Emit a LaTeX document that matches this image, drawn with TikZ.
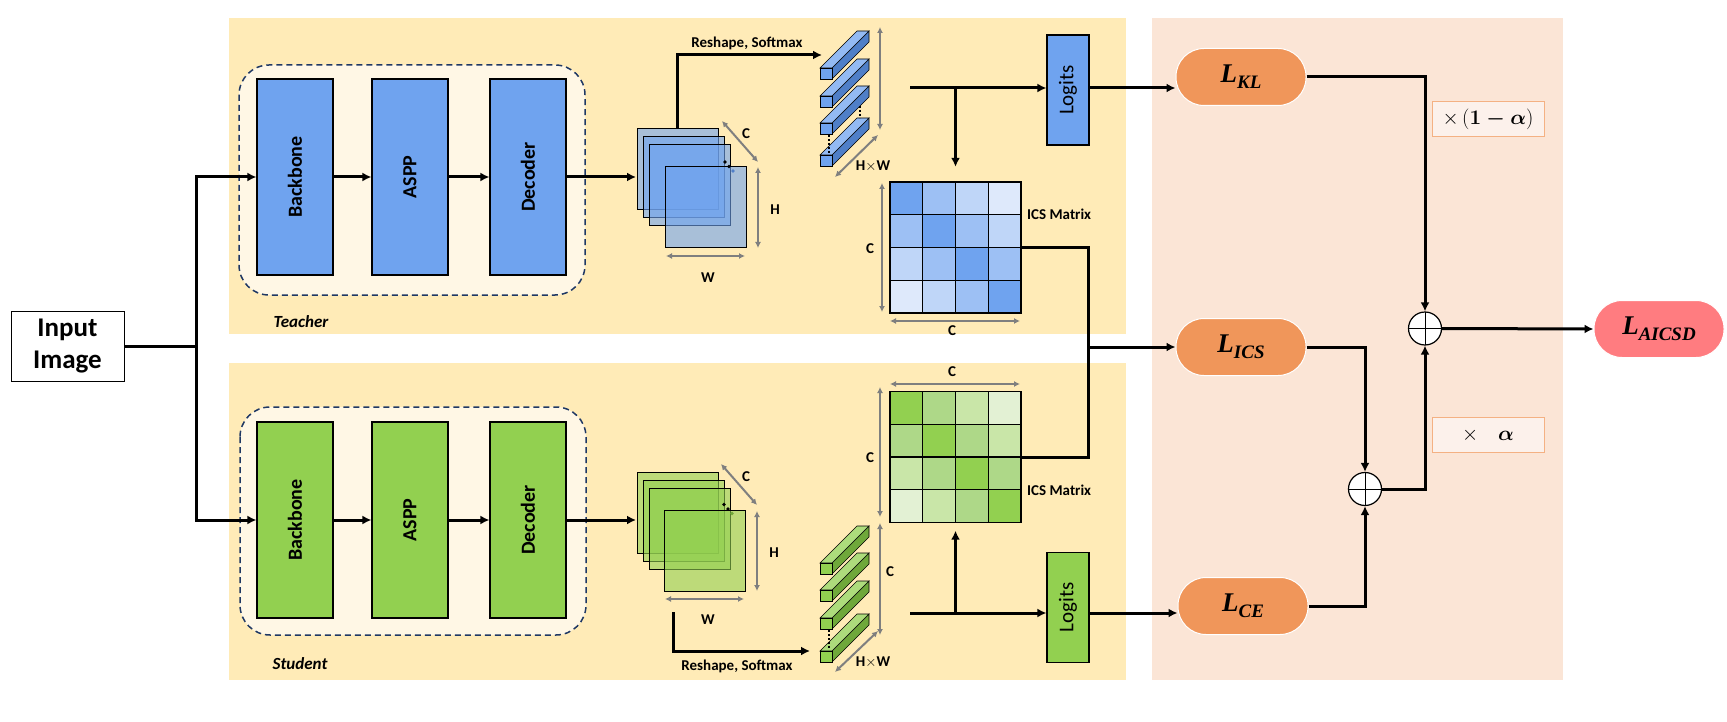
\documentclass[tikz,border=0pt]{standalone}
\usepackage{amsmath}
\usepackage{fontspec}
\setmainfont{Carlito}
\newfontfamily\lossfont{Liberation Serif}
\usetikzlibrary{arrows.meta}

\definecolor{tblue}{HTML}{6FA3EF}
\definecolor{tblueside}{HTML}{4F7FC8}
\definecolor{tcell0}{HTML}{6FA3EF}
\definecolor{tcell1}{HTML}{9DC0F4}
\definecolor{tcell2}{HTML}{BFD6F8}
\definecolor{tcell3}{HTML}{DEE9FB}
\definecolor{sgreen}{HTML}{92D050}
\definecolor{sgreenside}{HTML}{6FA83A}
\definecolor{scell0}{HTML}{92D050}
\definecolor{scell1}{HTML}{AED888}
\definecolor{scell2}{HTML}{C9E6A8}
\definecolor{scell3}{HTML}{E3F1D4}
\definecolor{panelY}{HTML}{FFEBB7}
\definecolor{panelIn}{HTML}{FFF7E5}
\definecolor{panelO}{HTML}{FBE5D6}
\definecolor{lossO}{HTML}{F0965A}
\definecolor{lossR}{HTML}{FF7C80}
\definecolor{dashN}{HTML}{1F3864}
\definecolor{dimG}{HTML}{7F7F7F}
\definecolor{factB}{HTML}{F4B183}
\definecolor{factF}{HTML}{FCF1EB}

% one 3D feature bar: x, y, front colour, side colour
\newcommand{\featbar}[4]{%
  \filldraw[fill=#4, draw=black, line width=0.6pt] (#1+12,#2) -- ++(37,-37) -- ++(0,11) -- ++(-37,37) -- cycle;
  \filldraw[fill=#3!75!white, draw=black, line width=0.6pt] (#1,#2) -- ++(37,-37) -- ++(12,0) -- ++(-37,37) -- cycle;
  \filldraw[fill=#3, draw=black, line width=0.6pt] (#1,#2) rectangle ++(12,11);
}
% loss name with subscript
\newcommand{\lossname}[1]{{\lossfont\bfseries\itshape L\raisebox{-6pt}{\fontsize{19}{21}\selectfont #1}}}

\tikzset{
  block/.style={draw=black, line width=1.2pt, minimum width=76pt, minimum height=196pt, inner sep=0pt, font=\fontsize{20}{24}\selectfont\bfseries},
  logit/.style={draw=black, line width=1.2pt, minimum width=42pt, minimum height=110pt, inner sep=0pt, font=\fontsize{21}{24}\selectfont},
  arr/.style={line width=3pt, -{Latex[length=9pt,width=9pt]}},
  wire/.style={line width=3pt},
  dim/.style={dimG, line width=2pt, {Latex[length=6pt,width=6pt]}-{Latex[length=6pt,width=6pt]}},
  dimlbl/.style={font=\fontsize{15}{17}\selectfont\bfseries},
  sheet/.style={draw=black, line width=1pt, fill opacity=0.6},
  loss/.style={draw=white, line width=1pt, rounded corners=28pt, minimum width=130pt, minimum height=57pt, inner sep=0pt, font=\fontsize{27}{30}\selectfont},
  factor/.style={draw=factB, fill=factF, line width=1pt, minimum width=112pt, minimum height=35pt, inner sep=0pt, font=\fontsize{20}{24}\selectfont},
  sumnode/.style={circle, draw=black, fill=white, line width=1.2pt, minimum size=33pt, inner sep=0pt,
    path picture={\draw[line width=1pt] (path picture bounding box.north) -- (path picture bounding box.south)
      (path picture bounding box.west) -- (path picture bounding box.east);}}
}

\begin{document}
\begin{tikzpicture}[x=1pt, y=-1pt]
\useasboundingbox (0,0) rectangle (1727,722);

% Paneles
\fill[panelY] (229,18) rectangle (1126,334);
\fill[panelY] (229,363) rectangle (1126,680);
\fill[panelO] (1152,18) rectangle (1563,680);
\draw[dashN, line width=1.5pt, dash pattern=on 6pt off 4pt, fill=panelIn, rounded corners=30pt] (239,65) rectangle (585,295);
\draw[dashN, line width=1.5pt, dash pattern=on 6pt off 4pt, fill=panelIn, rounded corners=30pt] (240,407) rectangle (586,635);
\node[font=\fontsize{17}{19}\selectfont\bfseries\itshape] (tlabel) at (301,322) {Teacher};
\node[font=\fontsize{17}{19}\selectfont\bfseries\itshape] (slabel) at (300,664) {Student};

% Entrada
\node[draw, line width=1pt, minimum width=113pt, minimum height=70pt, align=center, inner sep=0pt,
  font=\fontsize{27}{32}\selectfont\bfseries] (input) at (67.5,346) {Input\\Image};
\coordinate (split) at (196,346);

% Teacher: backbone, ASPP, decoder
\node[block, fill=tblue] (tbackbone) at (295,177) {\rotatebox{90}{Backbone}};
\node[block, fill=tblue] (taspp) at (410,177) {\rotatebox{90}{ASPP}};
\node[block, fill=tblue] (tdecoder) at (528,177) {\rotatebox{90}{Decoder}};

% Student: backbone, ASPP, decoder
\node[block, fill=sgreen] (sbackbone) at (295,520) {\rotatebox{90}{Backbone}};
\node[block, fill=sgreen] (saspp) at (410,520) {\rotatebox{90}{ASPP}};
\node[block, fill=sgreen] (sdecoder) at (528,520) {\rotatebox{90}{Decoder}};

\draw[wire] (input.east) -- (split);
\draw[arr] (split) |- (tbackbone.west);
\draw[arr] (split) |- (sbackbone.west);
\draw[arr] (tbackbone) -- (taspp);
\draw[arr] (taspp) -- (tdecoder);
\draw[arr] (sbackbone) -- (saspp);
\draw[arr] (saspp) -- (sdecoder);

% Mapas de caracteristicas (teacher)
\filldraw[sheet, fill=tblue] (637,129) rectangle ++(81,81);
\filldraw[sheet, fill=tblue] (643,137) rectangle ++(81,81);
\filldraw[sheet, fill=tblue] (649,145) rectangle ++(81,81);
\filldraw[sheet, fill=tblue] (665,167) rectangle ++(81,81);
\fill (725,162) circle (1.8);
\fill (729,166.5) circle (1.8);
\fill[tblueside] (733,171) circle (1.8);
\coordinate (tstack) at (636,177);
\draw[arr] (tdecoder.east) -- (tstack);
\draw[dim] (722,121) -- (758,162);
\node[dimlbl] (tdimc) at (746,134) {C};
\draw[dim] (758,167) -- (758,248);
\node[dimlbl] (tdimh) at (775,210) {H};
\draw[dim] (666,256) -- (745,256);
\node[dimlbl] (tdimw) at (708,278) {W};

% Mapas de caracteristicas (student)
\filldraw[sheet, fill=sgreen] (637,472) rectangle ++(81,81);
\filldraw[sheet, fill=sgreen] (643,480) rectangle ++(81,81);
\filldraw[sheet, fill=sgreen] (649,488) rectangle ++(81,81);
\filldraw[sheet, fill=sgreen] (664,510) rectangle ++(81,81);
\fill (724,504.5) circle (1.8);
\fill (728,509) circle (1.8);
\fill[sgreenside] (732,513.5) circle (1.8);
\coordinate (sstack) at (636,520);
\draw[arr] (sdecoder.east) -- (sstack);
\draw[dim] (721,464) -- (757,505);
\node[dimlbl] (sdimc) at (746,477) {C};
\draw[dim] (757,511) -- (757,591);
\node[dimlbl] (sdimh) at (774,553) {H};
\draw[dim] (665,599) -- (744,599);
\node[dimlbl] (sdimw) at (708,620) {W};

% Reshape, Softmax
\coordinate (tresh) at (677,129);
\coordinate (tbarin) at (822,55);
\draw[arr] (tresh) |- (tbarin);
\node[dimlbl] (treshlbl) at (747,43) {Reshape, Softmax};
\coordinate (sresh) at (673,612);
\coordinate (sbarin) at (810,651);
\draw[arr] (sresh) |- (sbarin);
\node[dimlbl] (sreshlbl) at (737,666) {Reshape, Softmax};

% Barras HxW (teacher)
\featbar{820}{68}{tblue}{tblueside}
\featbar{820}{96}{tblue}{tblueside}
\featbar{820}{123}{tblue}{tblueside}
\featbar{820}{155}{tblue}{tblueside}
\draw[line width=2pt, dotted] (828.5,135) -- (828.5,153);
\draw[line width=2pt, dotted] (859.5,106) -- (859.5,118);
\draw[dim] (880,27) -- (880,130);
\draw[dim] (878,135) -- (835,177);
\node[dimlbl] (thw) at (873,166) {H$\times$W};

% Barras HxW (student)
\featbar{820}{563}{sgreen}{sgreenside}
\featbar{820}{590}{sgreen}{sgreenside}
\featbar{820}{618}{sgreen}{sgreenside}
\featbar{820}{651}{sgreen}{sgreenside}
\draw[line width=2pt, dotted] (828.5,630) -- (828.5,649);
\draw[dim] (880,523) -- (880,635);
\node[dimlbl] (sdimcb) at (890,572) {C};
\draw[dim] (878,631) -- (835,672);
\node[dimlbl] (shw) at (873,662) {H$\times$W};

% Matriz ICS (teacher)
\foreach \i in {0,...,3}{
  \foreach \j in {0,...,3}{
    \pgfmathtruncatemacro\d{abs(\i-\j)}
    \filldraw[fill=tcell\d, draw=black, line width=1.2pt] (890+32.75*\j,182+32.75*\i) rectangle ++(32.75,32.75);
  }
}
\node[minimum size=131pt, inner sep=0pt] (tmat) at (955.5,247.5) {};
\draw[dim] (882,183) -- (882,312);
\node[dimlbl] (tmatc) at (870,249) {C};
\draw[dim] (890,321) -- (1020,321);
\node[dimlbl] (tmatcb) at (952,331) {C};
\node[dimlbl, anchor=west, inner sep=0pt] (tics) at (1027,214) {ICS Matrix};

% Matriz ICS (student)
\foreach \i in {0,...,3}{
  \foreach \j in {0,...,3}{
    \pgfmathtruncatemacro\d{abs(\i-\j)}
    \filldraw[fill=scell\d, draw=black, line width=1.2pt] (890+32.75*\j,391.5+32.75*\i) rectangle ++(32.75,32.75);
  }
}
\node[minimum size=131pt, inner sep=0pt] (smat) at (955.5,457) {};
\draw[dim] (890,384) -- (1020,384);
\node[dimlbl] (smatct) at (952,372) {C};
\draw[dim] (880,387) -- (880,517);
\node[dimlbl] (smatc) at (870,458) {C};
\node[dimlbl, anchor=west, inner sep=0pt] (sics) at (1027,490) {ICS Matrix};

% Logits
\node[logit, fill=tblue] (tlogits) at (1068,90) {\rotatebox{90}{Logits}};
\node[logit, fill=sgreen] (slogits) at (1068,607.5) {\rotatebox{90}{Logits}};
\coordinate (tbarout) at (910,88);
\coordinate (tsplit) at (955.5,88);
\draw[arr] (tbarout) -- (tbarout -| tlogits.west);
\draw[arr, shorten >=15pt] (tsplit) -- (tmat.north);
\coordinate (sbarout) at (910,613);
\coordinate (ssplit) at (955.5,613);
\draw[arr] (sbarout) -- (sbarout -| slogits.west);
\draw[arr, shorten >=8pt] (ssplit) -- (smat.south);

% Perdidas
\node[loss, fill=lossO] (lkl) at (1241,77) {\lossname{KL}};
\node[loss, fill=lossO] (lics) at (1241,347) {\lossname{ICS}};
\node[loss, fill=lossO] (lce) at (1243,606) {\lossname{CE}};
\node[loss, fill=lossR] (laicsd) at (1659,329) {\lossname{AICSD}};
\node[sumnode] (sumtop) at (1425,328.5) {};
\node[sumnode] (sumbot) at (1365,489) {};
\node[factor] (fkl) at (1488,119.5) {$\times\,(\boldsymbol{1-\alpha})$};
\node[factor] (fce) at (1488,435) {$\times\quad\boldsymbol{\alpha}$};

\draw[arr] (tlogits.east |- tbarout) -- (tbarout -| lkl.west);
\draw[arr] (slogits.east |- sbarout) -- (sbarout -| lce.west);

% Union ICS
\coordinate (icsj) at (1088,347);
\draw[wire] (tmat.east) -| (icsj);
\draw[wire] (smat.east) -| (icsj);
\draw[arr] (icsj) -- (lics.west);

% Suma ponderada
\draw[arr] (lkl.east) -| (sumtop.north);
\draw[arr] (lics.east) -| (sumbot.north);
\draw[arr] (lce.east) -| (sumbot.south);
\draw[arr] (sumbot.east) -| (sumtop.south);
\draw[arr] (sumtop.east) -- (laicsd.west);

\end{tikzpicture}
\end{document}
